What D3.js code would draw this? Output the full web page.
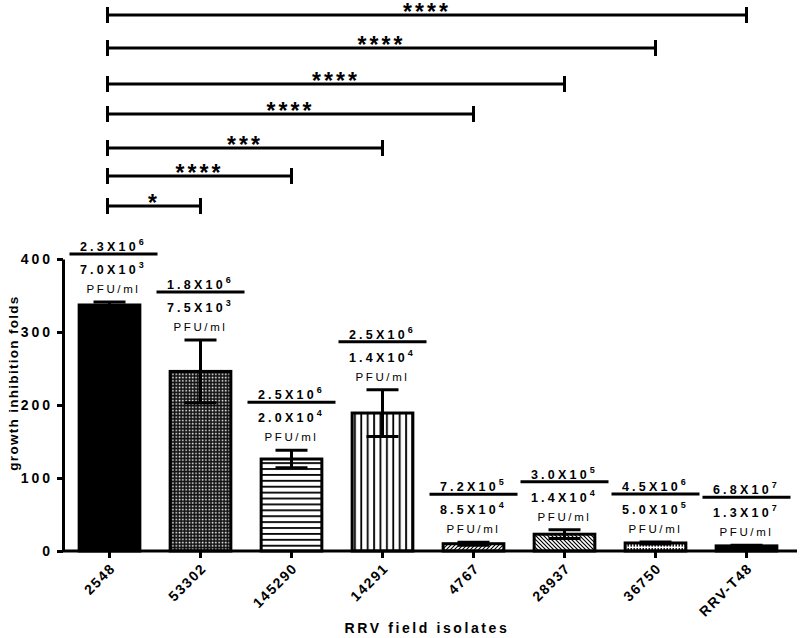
<!DOCTYPE html>
<html>
<head>
<meta charset="utf-8">
<script src="https://cdn.jsdelivr.net/npm/d3@7"></script>
<style>
  html, body { margin: 0; padding: 0; background: #fff; }
  svg { display: block; font-family: "Liberation Sans", Arial, sans-serif; }
  text { fill: #000; }
</style>
</head>
<body>
<svg id="chart" width="800" height="638"></svg>
<script>
// ---------- data ----------
const categories = ["2548", "53302", "145290", "14291", "4767", "28937", "36750", "RRV-T48"];
const means = [337, 246, 126, 189, 10, 23, 11, 7];
const errors = [4, 43, 12, 32, 2, 6, 1.5, 1];
const topMantissa = ["2.3", "1.8", "2.5", "2.5", "7.2", "3.0", "4.5", "6.8"];
const topExponent = ["6", "6", "6", "6", "5", "5", "6", "7"];
const bottomMantissa = ["7.0", "7.5", "2.0", "1.4", "8.5", "1.4", "5.0", "1.3"];
const bottomExponent = ["3", "3", "4", "4", "4", "4", "5", "7"];
const unitLabel = "PFU/ml";
const compareFrom = "2548";
const compareTo = ["53302", "145290", "14291", "4767", "28937", "36750", "RRV-T48"];
const compareStars = ["*", "****", "***", "****", "****", "****", "****"];
const yTicks = [0, 100, 200, 300, 400];
const yTitle = "growth inhibition folds";
const xTitle = "RRV field isolates";
const patterns = ["solid", "dots", "hlines", "vlines", "fdiag", "bdiag", "vdash", "solid"];

// ---------- layout ----------
const bracketRows = [206, 176, 148, 114, 84, 48, 15];
const svg = d3.select("#chart");
const x = d3.scaleBand().domain(categories).range([64, 792]).paddingInner(0.3).paddingOuter(0.15);
const y = d3.scaleLinear().domain([0, 400]).range([551, 259]);
const cx = c => x(c) + x.bandwidth() / 2;

// ---------- patterns ----------
const defs = svg.append("defs");
let p = defs.append("pattern").attr("id", "dots").attr("patternUnits", "userSpaceOnUse").attr("width", 3.3).attr("height", 3.3);
p.append("rect").attr("width", 3.3).attr("height", 3.3).attr("fill", "#111");
p.append("rect").attr("x", 0.6).attr("y", 0.6).attr("width", 1.5).attr("height", 1.5).attr("fill", "#fff");

p = defs.append("pattern").attr("id", "hlines").attr("patternUnits", "userSpaceOnUse").attr("width", 10).attr("height", 5.9);
p.append("rect").attr("width", 10).attr("height", 5.9).attr("fill", "#fff");
p.append("rect").attr("y", 2).attr("width", 10).attr("height", 1.8).attr("fill", "#000");

p = defs.append("pattern").attr("id", "vlines").attr("patternUnits", "userSpaceOnUse").attr("width", 6.4).attr("height", 10);
p.append("rect").attr("width", 6.4).attr("height", 10).attr("fill", "#fff");
p.append("rect").attr("x", 2).attr("width", 1.8).attr("height", 10).attr("fill", "#000");

p = defs.append("pattern").attr("id", "fdiag").attr("patternUnits", "userSpaceOnUse").attr("width", 4).attr("height", 4);
p.append("rect").attr("width", 4).attr("height", 4).attr("fill", "#fff");
p.append("path").attr("d", "M-1,5 L5,-1 M-1,1 L1,-1 M3,5 L5,3").attr("stroke", "#000").attr("stroke-width", 1.1);

p = defs.append("pattern").attr("id", "bdiag").attr("patternUnits", "userSpaceOnUse").attr("width", 4).attr("height", 4);
p.append("rect").attr("width", 4).attr("height", 4).attr("fill", "#fff");
p.append("path").attr("d", "M-1,-1 L5,5 M3,-1 L5,1 M-1,3 L1,5").attr("stroke", "#000").attr("stroke-width", 1.2);

p = defs.append("pattern").attr("id", "vdash").attr("patternUnits", "userSpaceOnUse").attr("width", 3).attr("height", 4);
p.append("rect").attr("width", 3).attr("height", 4).attr("fill", "#fff");
p.append("rect").attr("x", 0.5).attr("width", 1.4).attr("height", 2.6).attr("fill", "#000");

const fillFor = i => patterns[i] === "solid" ? "#000" : `url(#${patterns[i]})`;

// ---------- bars ----------
svg.append("g").selectAll("rect").data(categories).join("rect")
  .attr("x", c => x(c) + 1.5)
  .attr("y", (c, i) => y(means[i]))
  .attr("width", x.bandwidth() - 3)
  .attr("height", (c, i) => y(0) - y(means[i]))
  .attr("fill", (c, i) => fillFor(i))
  .attr("stroke", "#000").attr("stroke-width", 3);

// ---------- error bars ----------
const eg = svg.append("g").attr("stroke", "#000").attr("stroke-width", 3);
categories.forEach((c, i) => {
  const top = y(means[i] + errors[i]);
  const bot = y(Math.max(0, means[i] - errors[i]));
  eg.append("line").attr("x1", cx(c)).attr("x2", cx(c)).attr("y1", top).attr("y2", bot);
  eg.append("line").attr("x1", cx(c) - 16).attr("x2", cx(c) + 16).attr("y1", top).attr("y2", top);
  eg.append("line").attr("x1", cx(c) - 16).attr("x2", cx(c) + 16).attr("y1", bot).attr("y2", bot);
});

// ---------- axes ----------
const yAxis = svg.append("g").attr("transform", "translate(63,0)")
  .call(d3.axisLeft(y).tickValues(yTicks).tickSize(6).tickSizeOuter(0).tickPadding(4));
yAxis.select(".domain").attr("stroke-width", 3);
yAxis.selectAll(".tick line").attr("stroke-width", 3);
yAxis.selectAll("text").attr("font-size", 14).attr("font-weight", "bold")
  .attr("font-family", "Liberation Sans, Arial, sans-serif").style("letter-spacing", "3px").attr("fill", "#000");

const xAxis = svg.append("g").attr("transform", "translate(0,551)")
  .call(d3.axisBottom(x).tickSize(7).tickSizeOuter(0).tickFormat(""));
xAxis.select(".domain").attr("d", "M62,0H797").attr("stroke-width", 3);
xAxis.selectAll(".tick line").attr("stroke-width", 3);

// rotated category labels
svg.append("g").selectAll("text").data(categories).join("text")
  .attr("transform", c => `translate(${cx(c) + 7},569) rotate(-45)`)
  .attr("text-anchor", "end")
  .attr("font-size", 14).attr("font-weight", "bold")
  .style("letter-spacing", "1.6px")
  .text(c => c);

// axis titles
svg.append("text").attr("transform", "translate(18,383) rotate(-90)")
  .attr("text-anchor", "middle").attr("font-size", 13.5).attr("font-weight", "bold")
  .style("letter-spacing", "1.3px").text(yTitle);
svg.append("text").attr("x", 427).attr("y", 633)
  .attr("text-anchor", "middle").attr("font-size", 14).attr("font-weight", "bold")
  .style("letter-spacing", "2.6px").text(xTitle);

// ---------- titer annotations ----------
const ag = svg.append("g");
categories.forEach((c, i) => {
  const ly = y(means[i] + errors[i]) - 48;
  const xc = cx(c) + (i === 0 ? 4 : 0);
  ag.append("line").attr("x1", xc - 44).attr("x2", xc + 44).attr("y1", ly).attr("y2", ly)
    .attr("stroke", "#000").attr("stroke-width", 3);
  const t1 = ag.append("text").attr("x", xc).attr("y", ly - 3).attr("text-anchor", "middle")
    .attr("font-size", 12.5).attr("font-weight", "bold").style("letter-spacing", "3.2px");
  t1.append("tspan").text(topMantissa[i] + "X10");
  t1.append("tspan").attr("dy", -6).attr("font-size", 9).text(topExponent[i]);
  const t2 = ag.append("text").attr("x", xc).attr("y", ly + 20).attr("text-anchor", "middle")
    .attr("font-size", 12.5).attr("font-weight", "bold").style("letter-spacing", "3.2px");
  t2.append("tspan").text(bottomMantissa[i] + "X10");
  t2.append("tspan").attr("dy", -6).attr("font-size", 9).text(bottomExponent[i]);
  ag.append("text").attr("x", xc).attr("y", ly + 39).attr("text-anchor", "middle")
    .attr("font-size", 11.5).style("letter-spacing", "2.6px").text(unitLabel);
});

// ---------- significance brackets ----------
const bg = svg.append("g");
compareTo.forEach((c, k) => {
  const by = bracketRows[k];
  const x1 = cx(compareFrom) - 2, x2 = cx(c);
  bg.append("line").attr("x1", x1).attr("x2", x2).attr("y1", by).attr("y2", by).attr("stroke", "#000").attr("stroke-width", 3);
  bg.append("line").attr("x1", x1).attr("x2", x1).attr("y1", by - 8).attr("y2", by + 8).attr("stroke", "#000").attr("stroke-width", 3);
  bg.append("line").attr("x1", x2).attr("x2", x2).attr("y1", by - 8).attr("y2", by + 8).attr("stroke", "#000").attr("stroke-width", 3);
  bg.append("text").attr("x", (x1 + x2) / 2).attr("y", by + 4.5).attr("text-anchor", "middle")
    .attr("font-size", 23).attr("font-weight", "bold").style("letter-spacing", "3px").text(compareStars[k]);
});
</script>
</body>
</html>
